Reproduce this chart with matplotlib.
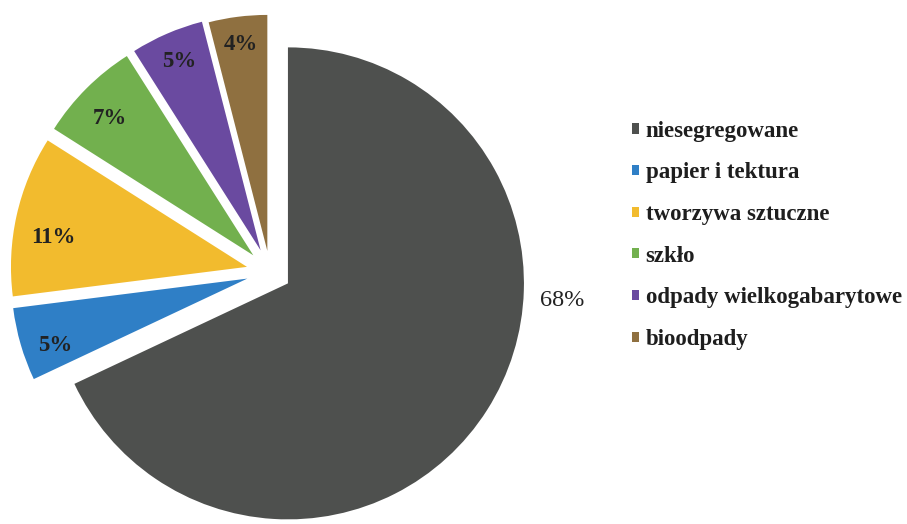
import matplotlib.pyplot as plt
import numpy as np

categories = ['niesegregowane', 'papier i tektura', 'tworzywa sztuczne',
              'szkło', 'odpady wielkogabarytowe', 'bioodpady']
values = [68, 5, 11, 7, 5, 4]
colors = ['#4e504e', '#2f7fc6', '#f2bb2e', '#72b04e', '#6a4aa0', '#8f7040']
explode = [0.09, 0.10, 0.10, 0.10, 0.10, 0.09]

# label placement: distance from wedge tip (radius units), angle tweak (deg)
label_dist = [1.165, 0.86, 0.83, 0.84, 0.87, 0.88]
label_turn = [-3.6, 3.0, 4.0, 1.5, 0.0, 0.0]

plt.rcParams['font.family'] = ['Liberation Serif', 'DejaVu Serif']

W, H = 907, 524
R = 236.0          # pie radius in pixels
cx, cy = 270, 272  # pie centre in pixels (from top-left)

fig = plt.figure(figsize=(W / 100, H / 100), dpi=100)
ax = fig.add_axes([0, 0, 1, 1])

wedges, texts, autotexts = ax.pie(
    values, colors=colors, explode=explode, startangle=90, counterclock=False,
    autopct='%d%%', pctdistance=0.85, wedgeprops=dict(linewidth=0),
    textprops=dict(fontsize=16.5, color='#222222', fontweight='bold'))

for i, (w, t) in enumerate(zip(wedges, autotexts)):
    if i == 0:
        # big slice label sits outside, to the right, nearly horizontal
        a = np.deg2rad(label_turn[i])
        t.set_fontweight('normal')
        t.set_fontsize(17.5)
    else:
        a = np.deg2rad((w.theta1 + w.theta2) / 2 + label_turn[i])
    x0, y0 = w.center
    t.set_position((x0 + label_dist[i] * np.cos(a), y0 + label_dist[i] * np.sin(a)))

ax.set_xlim(-cx / R, (W - cx) / R)
ax.set_ylim((cy - H) / R, cy / R)
ax.set_aspect('auto')
ax.axis('off')

leg = ax.legend(wedges, categories, loc='upper left', bbox_to_anchor=(0.674, 0.809),
                frameon=False, handlelength=0.3, handleheight=0.3, handletextpad=0.3,
                labelspacing=0.9, prop=dict(size=16.5, weight='bold'))
for txt in leg.get_texts():
    txt.set_color('#1e1e1e')

fig.savefig('out.png', dpi=100)
